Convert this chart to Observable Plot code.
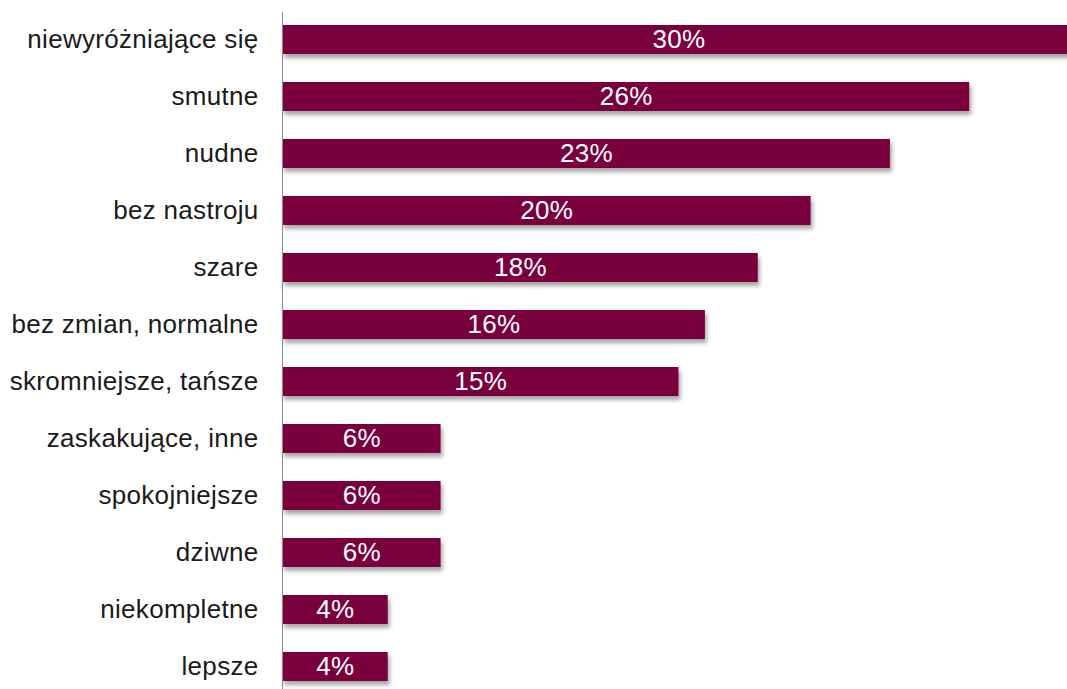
<!DOCTYPE html>
<html>
<head>
<meta charset="utf-8">
<script src="https://cdn.jsdelivr.net/npm/d3@7"></script>
<script src="https://cdn.jsdelivr.net/npm/@observablehq/plot@0.6"></script>
<style>
  html, body { margin: 0; padding: 0; background: #fff; overflow: hidden; }
  svg text { letter-spacing: 0.3px; }
</style>
</head>
<body>
<div id="chart"></div>
<script>
const categories = [
  "niewyróżniające się", "smutne", "nudne", "bez nastroju", "szare",
  "bez zmian, normalne", "skromniejsze, tańsze", "zaskakujące, inne",
  "spokojniejsze", "dziwne", "niekompletne", "lepsze"
];
const values = [30, 26, 23, 20, 18, 16, 15, 6, 6, 6, 4, 4];
const valueLabels = ["30%", "26%", "23%", "20%", "18%", "16%", "15%", "6%", "6%", "6%", "4%", "4%"];

const data = categories.map((c, i) => ({category: c, value: values[i], label: valueLabels[i]}));

const chart = Plot.plot({
  width: 1067,
  height: 689,
  marginLeft: 282,
  marginRight: 0,
  marginTop: 12,
  marginBottom: 0,
  style: {fontFamily: "'Liberation Sans', Arial, sans-serif", fontSize: "26px", background: "#fff", overflow: "hidden"},
  x: {domain: [0, 29.7], range: [282, 1067], axis: null},
  y: {domain: categories, range: [11, 696], paddingInner: 0.49, paddingOuter: 0.245, label: null},
  marks: [
    Plot.barX(data, {x: "value", y: "category", fill: "#7a003d", className: "bars"}),
    Plot.text(data, {x: d => d.value / 2, y: "category", text: "label", fill: "#ffffff", fontSize: 26}),
    Plot.axisY({tickSize: 0, tickPadding: 24, fontSize: 26, fill: "#1a1a1a", label: null}),
    Plot.ruleX([0], {stroke: "#8c8c8c", strokeWidth: 1})
  ]
});

// drop shadow for the bars
const svg = d3.select(chart);
const defs = svg.insert("defs", ":first-child");
const f = defs.append("filter").attr("id", "barShadow")
  .attr("x", "-5%").attr("y", "-20%").attr("width", "115%").attr("height", "160%");
f.append("feDropShadow").attr("dx", 2).attr("dy", 4).attr("stdDeviation", 2)
  .attr("flood-color", "#000").attr("flood-opacity", 0.35);
svg.selectAll("g.bars").attr("filter", "url(#barShadow)");

document.getElementById("chart").appendChild(chart);
</script>
</body>
</html>
